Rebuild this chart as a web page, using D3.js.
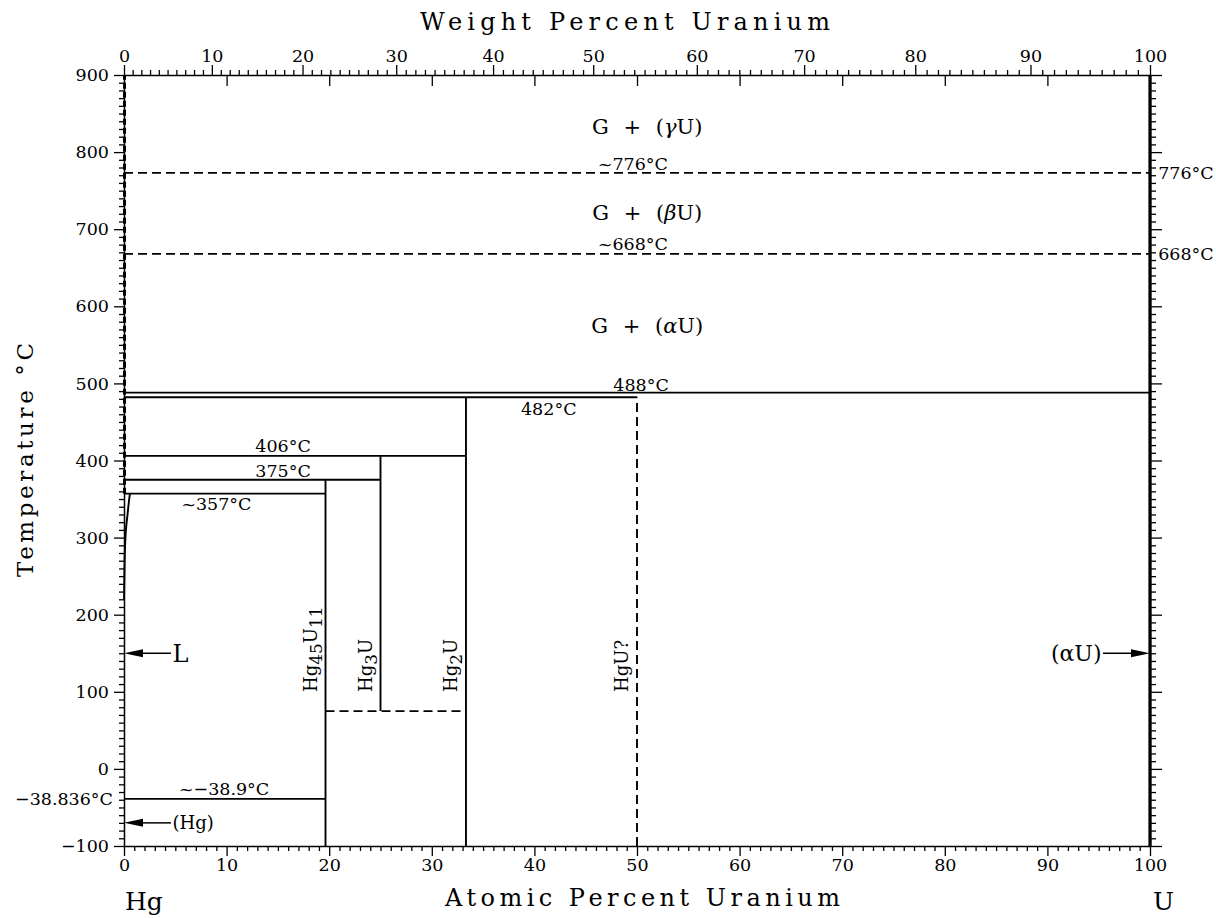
<!DOCTYPE html>
<html><head><meta charset="utf-8">
<script src="https://cdn.jsdelivr.net/npm/d3@7"></script>
<style>body{margin:0;background:#fff}</style>
</head><body>
<svg id="c" width="1216" height="918" xmlns="http://www.w3.org/2000/svg"></svg>
<script>
// ---------------- data ----------------
const atomicTicks = [0,10,20,30,40,50,60,70,80,90,100];
const atomicTickLabels = ["0","10","20","30","40","50","60","70","80","90","100"];
const atomicMinor = d3.range(0,101,1).filter(v => v % 10 !== 0);
const weightTicks = [0,10,20,30,40,50,60,70,80,90,100];
const weightTickLabels = ["0","10","20","30","40","50","60","70","80","90","100"];
const weightMinor = d3.range(0,101,1).filter(v => v % 10 !== 0);
const tempTicks = [-100,0,100,200,300,400,500,600,700,800,900];
const tempTickLabels = ["\u2212100","0","100","200","300","400","500","600","700","800","900"];
const tempMinor = d3.range(-100,901,10).filter(v => v % 100 !== 0);

const massHg = 200.59, massU = 238.029;

// phase boundaries (at.% U, °C)
const solidIsotherms = [
  {t:488, from:0, to:100},
  {t:482, from:0, to:50},
  {t:406, from:0, to:33.33},
  {t:375, from:0, to:25},
  {t:357, from:0, to:19.64},
  {t:-38.9, from:0, to:19.64}
];
const dashedIsotherms = [
  {t:773, from:0, to:100},
  {t:668, from:0, to:100},
  {t:75, from:19.64, to:33.33}
];
const solidVerticals = [
  {x:19.64, from:-100, to:375},
  {x:25, from:75, to:406},
  {x:33.33, from:-100, to:482}
];
const dashedVerticals = [
  {x:50, from:-100, to:482}
];
const gasBoundary = {x:0.05, from:357, to:900};
const uBoundary = {x:100, from:-100, to:900};
const liquidus = [[0,220],[0.05,260],[0.1,288],[0.2,312],[0.36,332],[0.48,347],[0.58,357]];

// temperature annotations: text, at.% anchor, temperature, pixel offset
const tempLabels = [
  {text:"~776°C", x:49.6, t:773, dy:-3, anchor:"middle"},
  {text:"~668°C", x:49.6, t:668, dy:-4, anchor:"middle"},
  {text:"488°C", x:50.4, t:488, dy:-2, anchor:"middle"},
  {text:"482°C", x:41.4, t:482, dy:17.5, anchor:"middle"},
  {text:"406°C", x:15.5, t:406, dy:-4, anchor:"middle"},
  {text:"375°C", x:15.5, t:375, dy:-3, anchor:"middle"},
  {text:"~357°C", x:9.0, t:357, dy:16.5, anchor:"middle"},
  {text:"~\u221238.9°C", x:9.75, t:-38.9, dy:-4, anchor:"middle"},
  {text:"\u221238.836°C", x:-1.07, t:-38.9, dy:6, anchor:"end"},
  {text:"776°C", x:100.8, t:773, dy:6.5, anchor:"start"},
  {text:"668°C", x:100.8, t:668, dy:6.5, anchor:"start"}
];
const phaseLabels = [
  {pre:"G + (", greek:"\u03B3", post:"U)", x:51.0, t:823.5},
  {pre:"G + (", greek:"\u03B2", post:"U)", x:51.0, t:712},
  {pre:"G + (", greek:"\u03B1", post:"U)", x:51.0, t:565.5}
];
const compounds = [
  {parts:[["Hg",0],["45",1],["U",0],["11",1]], x:19.64},
  {parts:[["Hg",0],["3",1],["U",0]], x:25},
  {parts:[["Hg",0],["2",1],["U",0]], x:33.33},
  {parts:[["HgU?",0]], x:50}
];
const arrows = [
  {label:"L", x:0, t:150, dir:-1, size:24},
  {label:"(Hg)", x:0, t:-70, dir:-1, size:18},
  {label:"(\u03B1U)", x:100, t:150, dir:1, size:22}
];

// ---------------- drawing ----------------
const svg = d3.select("#c");
const FONT = "'DejaVu Serif', serif";
const x = d3.scaleLinear().domain([0,100]).range([124,1150]);
const y = d3.scaleLinear().domain([-100,900]).range([846,75]);
const wtToAt = w => {
  if (w <= 0) return 0; if (w >= 100) return 100;
  const a = w / massU, b = (100 - w) / massHg;
  return 100 * a / (a + b);
};

function styleAxis(g, sw) {
  g.selectAll("line").attr("stroke","#000").attr("stroke-width",1.3);
  g.selectAll("path").attr("stroke","#000").attr("stroke-width",sw || 1.5);
  g.selectAll("text").attr("font-family",FONT).attr("font-size",17.5).attr("fill","#000");
}
const noLabel = () => "";

// bottom axis
svg.append("g").attr("transform",`translate(0,${y(-100)})`)
  .call(d3.axisBottom(x).tickValues(atomicMinor).tickSize(5).tickFormat(noLabel))
  .call(g=>g.select(".domain").remove()).call(styleAxis);
svg.append("g").attr("transform",`translate(0,${y(-100)})`)
  .call(d3.axisBottom(x).tickValues(atomicTicks).tickSize(10).tickSizeOuter(0).tickPadding(3)
    .tickFormat((d,i)=>atomicTickLabels[i]))
  .call(styleAxis);

// top axis (weight percent)
svg.append("g").attr("transform",`translate(0,${y(900)})`)
  .call(d3.axisTop(x).tickValues(weightMinor.map(wtToAt)).tickSize(5).tickFormat(noLabel))
  .call(g=>g.select(".domain").remove()).call(styleAxis);
svg.append("g").attr("transform",`translate(0,${y(900)})`)
  .call(d3.axisTop(x).tickValues(weightTicks.map(wtToAt)).tickSize(10).tickSizeOuter(0).tickPadding(3)
    .tickFormat((d,i)=>weightTickLabels[i]))
  .call(styleAxis);
// inward atomic major ticks on top
svg.append("g").attr("transform",`translate(0,${y(900)})`)
  .call(d3.axisBottom(x).tickValues(atomicTicks.slice(1,-1)).tickSize(11).tickFormat(noLabel))
  .call(g=>g.select(".domain").remove()).call(styleAxis);

// left axis
svg.append("g").attr("transform",`translate(${x(0)},0)`)
  .call(d3.axisLeft(y).tickValues(tempMinor).tickSize(5).tickFormat(noLabel))
  .call(g=>g.select(".domain").remove()).call(styleAxis);
svg.append("g").attr("transform",`translate(${x(0)},0)`)
  .call(d3.axisLeft(y).tickValues(tempTicks).tickSize(10).tickSizeOuter(0).tickPadding(5)
    .tickFormat((d,i)=>tempTickLabels[i]))
  .call(styleAxis);

// right axis
svg.append("g").attr("transform",`translate(${x(100)},0)`)
  .call(d3.axisRight(y).tickValues(tempMinor).tickSize(6).tickFormat(noLabel))
  .call(g=>g.select(".domain").remove()).call(styleAxis);
svg.append("g").attr("transform",`translate(${x(100)},0)`)
  .call(d3.axisRight(y).tickValues(tempTicks).tickSize(12).tickSizeOuter(0).tickFormat(noLabel))
  .call(styleAxis);

// phase lines
const lines = svg.append("g").attr("stroke","#000").attr("fill","none");
lines.selectAll(".si").data(solidIsotherms).join("line")
  .attr("x1",d=>x(d.from)).attr("x2",d=>x(d.to)).attr("y1",d=>y(d.t)).attr("y2",d=>y(d.t))
  .attr("stroke-width",1.9);
lines.selectAll(".di").data(dashedIsotherms).join("line")
  .attr("x1",d=>x(d.from)).attr("x2",d=>x(d.to)).attr("y1",d=>y(d.t)).attr("y2",d=>y(d.t))
  .attr("stroke-width",1.9).attr("stroke-dasharray","9,5");
lines.selectAll(".sv").data(solidVerticals).join("line")
  .attr("x1",d=>x(d.x)).attr("x2",d=>x(d.x)).attr("y1",d=>y(d.from)).attr("y2",d=>y(d.to))
  .attr("stroke-width",1.9);
lines.selectAll(".dv").data(dashedVerticals).join("line")
  .attr("x1",d=>x(d.x)).attr("x2",d=>x(d.x)).attr("y1",d=>y(d.from)).attr("y2",d=>y(d.to))
  .attr("stroke-width",1.9).attr("stroke-dasharray","9,5");
lines.append("line").datum(gasBoundary)
  .attr("x1",d=>x(d.x)).attr("x2",d=>x(d.x)).attr("y1",d=>y(d.from)).attr("y2",d=>y(d.to))
  .attr("stroke-width",3).attr("stroke-dasharray","6,3");
lines.append("line").datum(uBoundary)
  .attr("x1",d=>x(d.x)).attr("x2",d=>x(d.x)).attr("y1",d=>y(d.from)).attr("y2",d=>y(d.to))
  .attr("stroke-width",3.2);
lines.append("path").datum(liquidus)
  .attr("d", d3.line().x(d=>x(d[0])).y(d=>y(d[1])).curve(d3.curveMonotoneY))
  .attr("stroke-width",1.9);

// temperature labels
svg.append("g").selectAll("text").data(tempLabels).join("text")
  .attr("x",d=>x(d.x)).attr("y",d=>y(d.t)+d.dy).attr("text-anchor",d=>d.anchor)
  .attr("font-family",FONT).attr("font-size",17.5).text(d=>d.text);

// phase labels
const pl = svg.append("g").selectAll("text").data(phaseLabels).join("text")
  .attr("x",d=>x(d.x)).attr("y",d=>y(d.t)).attr("text-anchor","middle")
  .attr("font-family",FONT).attr("font-size",21).attr("word-spacing",8);
pl.append("tspan").text(d=>d.pre);
pl.append("tspan").attr("font-style","italic").text(d=>d.greek);
pl.append("tspan").text(d=>d.post);

// compound labels (rotated)
compounds.forEach(c => {
  const bx = x(c.x) - 9, by = 692;
  const t = svg.append("text").attr("transform",`translate(${bx},${by}) rotate(-90)`)
    .attr("font-family",FONT).attr("font-size",18);
  let sub = 0;
  c.parts.forEach(([s,isSub]) => {
    const ts = t.append("tspan").text(s);
    if (isSub && !sub) { ts.attr("dy",5).attr("font-size",17); sub = 1; }
    else if (isSub) { ts.attr("font-size",17); }
    else if (!isSub && sub) { ts.attr("dy",-5); sub = 0; }
  });
});

// arrows
arrows.forEach(a => {
  const tipX = x(a.x), yy = y(a.t);
  const tail = tipX - a.dir*47, base = tipX - a.dir*19;
  svg.append("line").attr("x1",tail).attr("x2",base).attr("y1",yy).attr("y2",yy)
    .attr("stroke","#000").attr("stroke-width",1.5);
  svg.append("path").attr("d",`M${tipX},${yy}L${base},${yy-4}L${base},${yy+4}Z`).attr("fill","#000");
  svg.append("text").attr("x",tail - a.dir*1.5).attr("y",yy+ (a.size*0.36))
    .attr("text-anchor",a.dir<0?"start":"end")
    .attr("font-family",FONT).attr("font-size",a.size).text(a.label);
});

// axis titles (serif, widely spaced)
svg.append("text").attr("x",420).attr("y",30)
  .attr("font-family",FONT).attr("font-size",24)
  .attr("textLength",410).attr("lengthAdjust","spacing")
  .text("Weight Percent Uranium");
svg.append("text").attr("x",445).attr("y",906)
  .attr("font-family",FONT).attr("font-size",24)
  .attr("textLength",395).attr("lengthAdjust","spacing")
  .text("Atomic Percent Uranium");
svg.append("text").attr("transform","translate(33,577) rotate(-90)")
  .attr("font-family",FONT).attr("font-size",23)
  .attr("textLength",234).attr("lengthAdjust","spacing")
  .text("Temperature °C");
svg.append("text").attr("x",x(0)+1).attr("y",910).attr("font-family",FONT).attr("font-size",25).text("Hg");
svg.append("text").attr("x",x(100)+3).attr("y",910).attr("font-family",FONT).attr("font-size",25).text("U");
</script>
</body></html>
